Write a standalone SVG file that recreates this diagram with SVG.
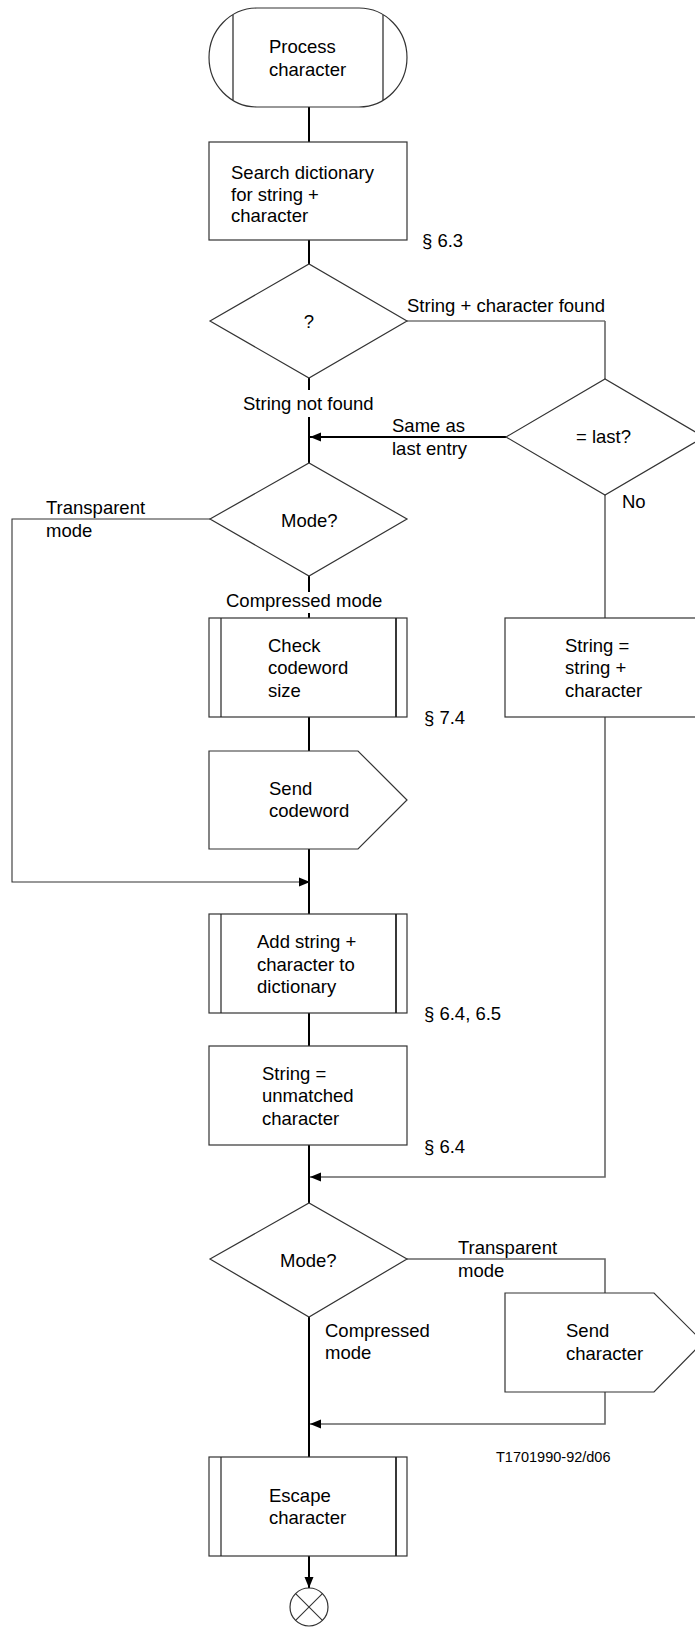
<svg xmlns="http://www.w3.org/2000/svg" width="695" height="1628" viewBox="0 0 695 1628">
<style>
.shape{fill:#fff;stroke:#333;stroke-width:1.2}
.inner{stroke:#222;stroke-width:1.2;fill:none}
.main{stroke:#000;stroke-width:2;fill:none}
.side{stroke:#666;stroke-width:1.6;fill:none}
.thin{stroke:#333;stroke-width:1.1;fill:none}
text{font-family:"Liberation Sans",Arial,sans-serif;font-size:18.5px;fill:#000}
.small{font-size:14.5px}
</style>
<defs>
<marker id="arr" markerUnits="userSpaceOnUse" markerWidth="12" markerHeight="10" refX="11" refY="5" orient="auto">
<path d="M0,0.5 L11,5 L0,9.5 Z" fill="#000"/>
</marker>
</defs>
<g id="connectors">
<line class="main" x1="309" y1="107" x2="309" y2="142"/>
<line class="main" x1="309" y1="240" x2="309" y2="264"/>
<line class="main" x1="309" y1="378" x2="309" y2="390"/>
<line class="main" x1="309" y1="417" x2="309" y2="463"/>
<line class="main" x1="309" y1="576" x2="309" y2="592"/>
<line class="main" x1="309" y1="613" x2="309" y2="618"/>
<line class="main" x1="309" y1="717" x2="309" y2="751"/>
<line class="main" x1="309" y1="849" x2="309" y2="914"/>
<line class="main" x1="309" y1="1013" x2="309" y2="1046"/>
<line class="main" x1="309" y1="1145" x2="309" y2="1203"/>
<line class="main" x1="309" y1="1317" x2="309" y2="1457"/>
<line class="main" x1="309" y1="1556" x2="309" y2="1588" marker-end="url(#arr)"/>
<polyline class="thin" points="407,321 605,321"/>
<polyline class="side" points="605,321 605,379"/>
<line class="main" x1="506" y1="437" x2="310" y2="437" marker-end="url(#arr)"/>
<line class="side" x1="605" y1="495" x2="605" y2="618"/>
<polyline class="side" points="605,717 605,1177 310,1177" marker-end="url(#arr)"/>
<polyline class="thin" points="210,519 12,519 12,882 310,882" marker-end="url(#arr)"/>
<polyline class="side" points="407,1259 605,1259 605,1293"/>
<polyline class="side" points="605,1392 605,1424 310,1424" marker-end="url(#arr)"/>
</g>
<g id="start">
<path class="shape" d="M257,8 H359 A48,49.5 0 0 1 359,107 H257 A48,49.5 0 0 1 257,8 Z"/>
<line class="inner" x1="233" y1="15" x2="233" y2="100"/>
<line class="inner" x1="383" y1="15" x2="383" y2="100"/>
<text x="269" y="53">Process</text>
<text x="269" y="76">character</text>
</g>
<g id="search">
<rect class="shape" x="209" y="142" width="198" height="98"/>
<text x="231" y="179">Search dictionary</text>
<text x="231" y="201">for string +</text>
<text x="231" y="222">character</text>
<text x="422" y="247">§ 6.3</text>
</g>
<g id="found">
<path class="shape" d="M210,321 L309,264 L407,321 L309,378 Z"/>
<text x="309" y="328" text-anchor="middle">?</text>
<text x="407" y="312">String + character found</text>
<text x="243" y="410">String not found</text>
</g>
<g id="last">
<path class="shape" d="M506,437 L605,379 L704,437 L605,495 Z"/>
<text x="576" y="443">= last?</text>
<text x="392" y="432">Same as</text>
<text x="392" y="455">last entry</text>
<text x="622" y="508">No</text>
</g>
<g id="mode1">
<path class="shape" d="M210,519 L309,463 L407,519 L309,576 Z"/>
<text x="281" y="527">Mode?</text>
<text x="46" y="514">Transparent</text>
<text x="46" y="537">mode</text>
<text x="226" y="607">Compressed mode</text>
</g>
<g id="check">
<rect class="shape" x="209" y="618" width="198" height="99"/>
<line class="inner" x1="221" y1="618" x2="221" y2="717"/>
<line class="inner" x1="396" y1="618" x2="396" y2="717" style="stroke-width:1.8"/>
<text x="268" y="652">Check</text>
<text x="268" y="674">codeword</text>
<text x="268" y="697">size</text>
<text x="424" y="724">§ 7.4</text>
</g>
<g id="strplus">
<rect class="shape" x="505" y="618" width="198" height="99"/>
<text x="565" y="652">String =</text>
<text x="565" y="674">string +</text>
<text x="565" y="697">character</text>
</g>
<g id="sendcw">
<path class="shape" d="M209,751 H358 L407,800 L358,849 H209 Z"/>
<text x="269" y="795">Send</text>
<text x="269" y="817">codeword</text>
</g>
<g id="add">
<rect class="shape" x="209" y="914" width="198" height="99"/>
<line class="inner" x1="221" y1="914" x2="221" y2="1013"/>
<line class="inner" x1="396" y1="914" x2="396" y2="1013" style="stroke-width:1.8"/>
<text x="257" y="948">Add string +</text>
<text x="257" y="971">character to</text>
<text x="257" y="993">dictionary</text>
<text x="424" y="1020">§ 6.4, 6.5</text>
</g>
<g id="unmatched">
<rect class="shape" x="209" y="1046" width="198" height="99"/>
<text x="262" y="1080">String =</text>
<text x="262" y="1102">unmatched</text>
<text x="262" y="1125">character</text>
<text x="424" y="1153">§ 6.4</text>
</g>
<g id="mode2">
<path class="shape" d="M210,1259 L309,1203 L407,1259 L309,1317 Z"/>
<text x="280" y="1267">Mode?</text>
<text x="458" y="1254">Transparent</text>
<text x="458" y="1277">mode</text>
<text x="325" y="1337">Compressed</text>
<text x="325" y="1359">mode</text>
</g>
<g id="sendch">
<path class="shape" d="M505,1293 H654 L703,1342 L654,1392 H505 Z"/>
<text x="566" y="1337">Send</text>
<text x="566" y="1360">character</text>
</g>
<g id="escape">
<rect class="shape" x="209" y="1457" width="198" height="99"/>
<line class="inner" x1="221" y1="1457" x2="221" y2="1556"/>
<line class="inner" x1="396" y1="1457" x2="396" y2="1556" style="stroke-width:1.8"/>
<text x="269" y="1502">Escape</text>
<text x="269" y="1524">character</text>
</g>
<g id="stop">
<circle class="shape" cx="309" cy="1607" r="19"/>
<line class="thin" x1="295.6" y1="1593.6" x2="322.4" y2="1620.4"/>
<line class="thin" x1="322.4" y1="1593.6" x2="295.6" y2="1620.4"/>
</g>
<text class="small" x="496" y="1462">T1701990-92/d06</text>
</svg>
